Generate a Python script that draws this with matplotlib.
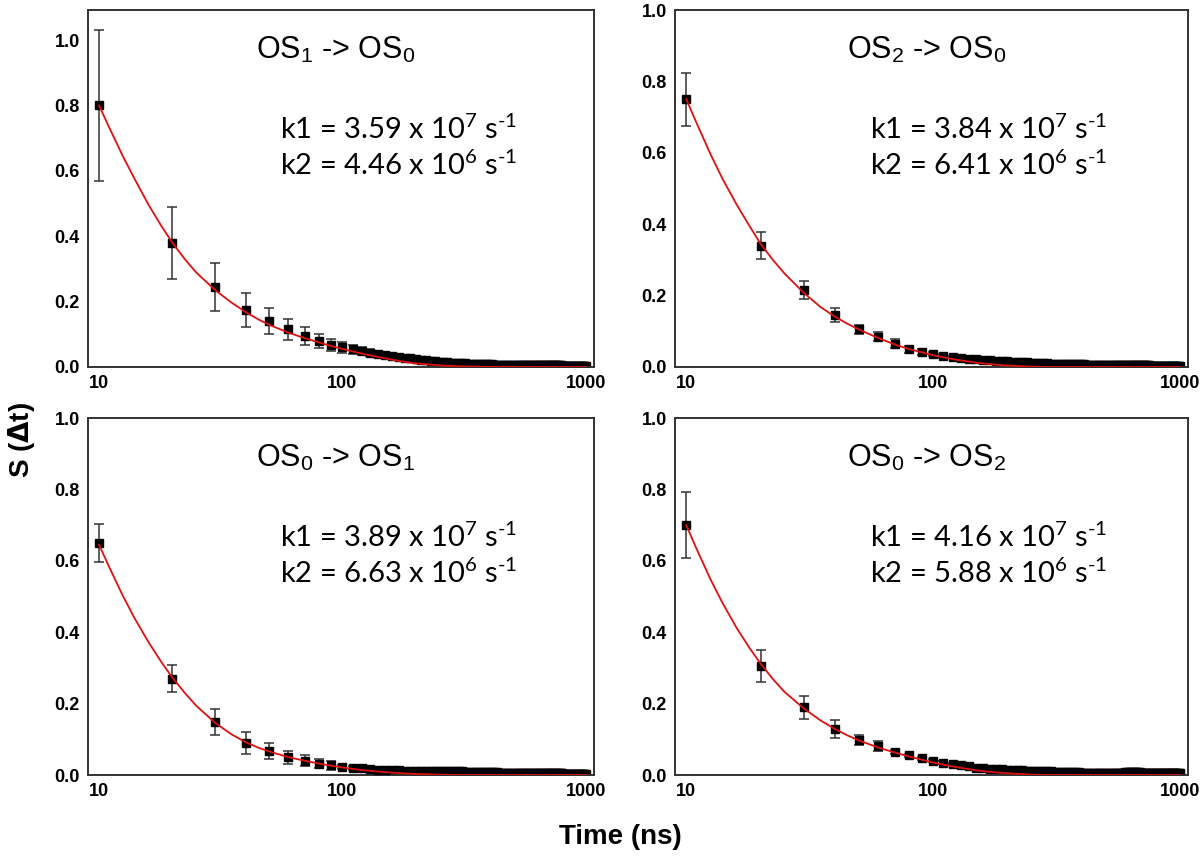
import matplotlib
matplotlib.use("Agg")
import matplotlib.pyplot as plt

plt.rcParams['font.family'] = ['Liberation Sans', 'DejaVu Sans']
plt.rcParams['mathtext.fontset'] = 'custom'
plt.rcParams['mathtext.rm'] = 'Lato'
plt.rcParams['mathtext.it'] = 'Lato'

# time points (ns) with visible error bars
t_head = [10, 20, 30, 40, 50, 60, 70, 80, 90, 100, 110, 120, 130, 140, 150]
# remaining time points 160 .. 1000 ns
t_tail = list(range(160, 1001, 10))
# points
fit_t = [10, 11, 12.5, 14, 16, 18, 20, 22.5, 25, 30, 35, 40, 45, 50, 60, 70, 80, 90,
         100, 120, 150, 175, 200, 250, 300, 400, 1000]

# OS1 -> OS0
s_a = [0.80, 0.38, 0.245, 0.175, 0.14, 0.115, 0.095, 0.08, 0.068, 0.06, 0.054, 0.049, 0.044, 0.040, 0.036]
e_a = [0.23, 0.11, 0.073, 0.052, 0.04, 0.033, 0.027, 0.022, 0.019, 0.016, 0.014, 0.012, 0.010, 0.009, 0.008]
tail_a = [0.033, 0.030, 0.028, 0.026, 0.024, 0.022, 0.020, 0.019, 0.018, 0.016,
          0.015, 0.014, 0.013, 0.013, 0.012, 0.011, 0.011, 0.010, 0.010, 0.009,
          0.009, 0.009, 0.008, 0.008, 0.008, 0.008, 0.007, 0.007, 0.007, 0.007,
          0.007, 0.006, 0.006, 0.006, 0.006, 0.006, 0.006, 0.006, 0.006, 0.006,
          0.006, 0.006, 0.005, 0.005, 0.005, 0.005, 0.005, 0.005, 0.005, 0.005,
          0.005, 0.005, 0.005, 0.005, 0.005, 0.005, 0.005, 0.005, 0.005, 0.005,
          0.005, 0.005, 0.005, 0.005, 0.004, 0.004, 0.004, 0.004, 0.004, 0.004,
          0.004, 0.004, 0.004, 0.004, 0.004, 0.004, 0.004, 0.004, 0.004, 0.004,
          0.004, 0.004, 0.004, 0.004, 0.004]
fit_a = [0.80, 0.733, 0.646, 0.575, 0.495, 0.432, 0.38, 0.330, 0.29, 0.235, 0.197, 0.168, 0.146, 0.129,
         0.105, 0.088, 0.075, 0.064, 0.055, 0.041, 0.026, 0.017, 0.011, 0.005, 0.002, 0.0005, 0.0]

# OS2 -> OS0
s_b = [0.75, 0.34, 0.215, 0.145, 0.105, 0.085, 0.065, 0.05, 0.042, 0.036, 0.031, 0.028, 0.025, 0.023, 0.021]
e_b = [0.075, 0.038, 0.025, 0.02, 0.013, 0.013, 0.012, 0.01, 0.008, 0.006, 0.005, 0.004, 0.004, 0.003, 0.003]
tail_b = [0.020, 0.019, 0.018, 0.017, 0.016, 0.015, 0.014, 0.013, 0.013, 0.012,
          0.011, 0.011, 0.010, 0.010, 0.009, 0.009, 0.009, 0.008, 0.008, 0.008,
          0.008, 0.007, 0.007, 0.007, 0.007, 0.007, 0.006, 0.006, 0.006, 0.006,
          0.006, 0.006, 0.006, 0.005, 0.005, 0.005, 0.005, 0.005, 0.005, 0.005,
          0.005, 0.005, 0.005, 0.005, 0.005, 0.005, 0.005, 0.005, 0.005, 0.005,
          0.005, 0.005, 0.005, 0.005, 0.005, 0.005, 0.005, 0.005, 0.005, 0.005,
          0.004, 0.004, 0.004, 0.004, 0.004, 0.004, 0.004, 0.004, 0.004, 0.004,
          0.004, 0.004, 0.004, 0.004, 0.004, 0.004, 0.004, 0.004, 0.004, 0.004,
          0.004, 0.004, 0.004, 0.004, 0.004]
fit_b = [0.75, 0.684, 0.598, 0.528, 0.455, 0.396, 0.345, 0.299, 0.262, 0.207, 0.168, 0.141, 0.121, 0.105,
         0.081, 0.063, 0.05, 0.041, 0.033, 0.022, 0.012, 0.007, 0.004, 0.001, 0.0, 0.0, 0.0]

# OS0 -> OS1
s_c = [0.65, 0.27, 0.148, 0.09, 0.068, 0.05, 0.04, 0.032, 0.027, 0.022, 0.02, 0.019, 0.017, 0.015, 0.014]
e_c = [0.052, 0.037, 0.037, 0.03, 0.022, 0.018, 0.015, 0.013, 0.012, 0.006, 0.005, 0.004, 0.003, 0.003, 0.003]
tail_c = [0.013, 0.013, 0.012, 0.012, 0.012, 0.011, 0.011, 0.011, 0.011, 0.010,
          0.010, 0.010, 0.010, 0.010, 0.010, 0.010, 0.009, 0.009, 0.009, 0.009,
          0.009, 0.009, 0.008, 0.008, 0.008, 0.008, 0.008, 0.008, 0.007, 0.007,
          0.007, 0.007, 0.007, 0.007, 0.007, 0.007, 0.007, 0.006, 0.006, 0.006,
          0.006, 0.006, 0.006, 0.006, 0.006, 0.006, 0.006, 0.006, 0.005, 0.005,
          0.005, 0.005, 0.005, 0.005, 0.005, 0.005, 0.005, 0.005, 0.005, 0.005,
          0.005, 0.005, 0.005, 0.005, 0.005, 0.004, 0.004, 0.004, 0.004, 0.004,
          0.004, 0.004, 0.004, 0.004, 0.004, 0.004, 0.004, 0.004, 0.004, 0.004,
          0.004, 0.004, 0.004, 0.004, 0.004]
fit_c = [0.645, 0.583, 0.503, 0.439, 0.371, 0.317, 0.273, 0.230, 0.195, 0.146, 0.114, 0.092, 0.077, 0.066,
         0.050, 0.040, 0.032, 0.026, 0.021, 0.014, 0.008, 0.005, 0.003, 0.001, 0.0, 0.0, 0.0]

# OS0 -> OS2
s_d = [0.70, 0.305, 0.19, 0.13, 0.098, 0.08, 0.065, 0.055, 0.047, 0.04, 0.035, 0.031, 0.027, 0.024, 0.021]
e_d = [0.093, 0.045, 0.032, 0.025, 0.015, 0.014, 0.006, 0.005, 0.004, 0.004, 0.003, 0.003, 0.003, 0.003, 0.003]
tail_d = [0.019, 0.018, 0.017, 0.016, 0.015, 0.014, 0.013, 0.013, 0.012, 0.012,
          0.011, 0.011, 0.010, 0.010, 0.010, 0.009, 0.009, 0.009, 0.009, 0.008,
          0.008, 0.008, 0.008, 0.008, 0.007, 0.007, 0.007, 0.007, 0.007, 0.007,
          0.007, 0.007, 0.007, 0.007, 0.007, 0.007, 0.007, 0.007, 0.007, 0.007,
          0.007, 0.007, 0.007, 0.007, 0.008, 0.008, 0.008, 0.008, 0.008, 0.008,
          0.008, 0.008, 0.008, 0.008, 0.007, 0.007, 0.007, 0.007, 0.007, 0.007,
          0.007, 0.006, 0.006, 0.006, 0.006, 0.006, 0.006, 0.006, 0.006, 0.005,
          0.005, 0.005, 0.005, 0.005, 0.005, 0.005, 0.005, 0.005, 0.005, 0.005,
          0.005, 0.005, 0.005, 0.005, 0.005]
fit_d = [0.70, 0.634, 0.550, 0.483, 0.412, 0.357, 0.312, 0.268, 0.233, 0.186, 0.153, 0.129, 0.111, 0.097,
         0.077, 0.063, 0.052, 0.043, 0.035, 0.024, 0.013, 0.008, 0.005, 0.001, 0.0, 0.0, 0.0]

titles = [r'OS$_\mathregular{1}$ -> OS$_\mathregular{0}$', r'OS$_\mathregular{2}$ -> OS$_\mathregular{0}$',
          r'OS$_\mathregular{0}$ -> OS$_\mathregular{1}$', r'OS$_\mathregular{0}$ -> OS$_\mathregular{2}$']
k1_txt = ['3.59', '3.84', '3.89', '4.16']
k2_txt = ['4.46', '6.41', '6.63', '5.88']

panels = [(s_a, e_a, tail_a, fit_a), (s_b, e_b, tail_b, fit_b),
          (s_c, e_c, tail_c, fit_c), (s_d, e_d, tail_d, fit_d)]

fig = plt.figure(figsize=(12, 8.58), dpi=100)
pos = [[0.0733, 0.5723, 0.4217, 0.416], [0.5625, 0.5723, 0.4275, 0.416],
       [0.0733, 0.0967, 0.4217, 0.416], [0.5625, 0.0967, 0.4275, 0.416]]
ytops = [1.092, 1.0, 1.0, 1.0]

for i in range(4):
    s, e, tail, fit = panels[i]
    ax = fig.add_axes(pos[i])
    ax.plot(t_tail, tail, 's', color='black', markersize=6, zorder=2)
    ax.errorbar(t_head, s, yerr=e, fmt='s', color='black', ecolor='#333333',
                markersize=6, elinewidth=1.1, capsize=3.5, capthick=1.1, zorder=3)
    ax.plot(fit_t, fit, color='#e01010', linewidth=1.3, zorder=4)
    ax.set_xscale('log')
    ax.set_xlim(9.0, 1080)
    ax.set_ylim(0, ytops[i])
    ax.set_xticks([10, 100, 1000])
    ax.set_xticklabels(['10', '100', '1000'])
    ax.set_yticks([0.0, 0.2, 0.4, 0.6, 0.8, 1.0])
    ax.set_yticklabels(['0.0', '0.2', '0.4', '0.6', '0.8', '1.0'])
    ax.minorticks_off()
    ax.tick_params(length=0, labelsize=13, pad=6)
    for lab in ax.get_xticklabels() + ax.get_yticklabels():
        lab.set_fontweight('bold')
    for sp in ax.spines.values():
        sp.set_linewidth(1.4)
        sp.set_color('#333333')
    ax.text(0.49, 0.89, titles[i], transform=ax.transAxes, ha='center', va='center',
            fontsize=22)
    ax.text(0.38, 0.665, 'k1 = ' + k1_txt[i] + r' x 10$^{7}$ s$^{\text{-}1}$', transform=ax.transAxes,
            ha='left', va='center', fontsize=21, family=['Lato', 'DejaVu Sans'])
    ax.text(0.38, 0.565, 'k2 = ' + k2_txt[i] + r' x 10$^{6}$ s$^{\text{-}1}$', transform=ax.transAxes,
            ha='left', va='center', fontsize=21, family=['Lato', 'DejaVu Sans'])

fig.text(0.018, 0.487, r'S ($\mathbf{\Delta}$t)', rotation=90, ha='center', va='center',
         fontsize=20, fontweight='bold', family=['Liberation Sans', 'DejaVu Sans'])
fig.text(0.517, 0.025, 'Time (ns)', ha='center', va='center', fontsize=20, fontweight='bold')

fig.savefig('out.png', dpi=100)
